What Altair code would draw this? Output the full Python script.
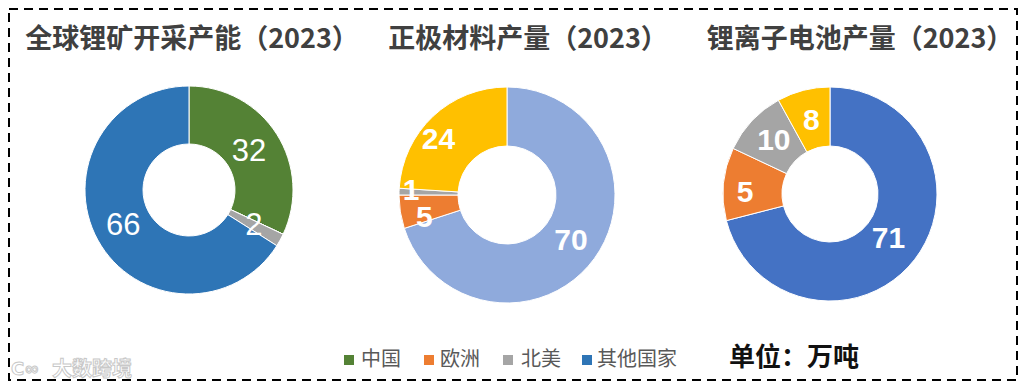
import altair as alt
import pandas as pd

# ---------------- data ----------------
titles = ["全球锂矿开采产能（2023）", "正极材料产量（2023）", "锂离子电池产量（2023）"]
legend_names = ["中国", "欧洲", "北美", "其他国家"]

# segments listed clockwise from 12 o'clock
c1_regions = ["中国", "欧洲", "北美", "其他国家"]
c1_share = [32, 0, 2, 66]
c1_labels = ["32", "", "2", "66"]

c2_regions = ["其他国家", "欧洲", "北美", "中国"]
c2_share = [70, 5, 1, 24]
c2_labels = ["70", "5", "1", "24"]

c3_regions = ["其他国家", "欧洲", "北美", "中国"]
c3_share = [71, 11, 10, 8]
c3_labels = ["71", "5", "10", "8"]

unit_text = "单位：万吨"
watermark_text = "大数跨境"

# ---------------- styles / layout ----------------
c1_colors = ["#548235", "#ED7D31", "#A5A5A5", "#2E75B6"]
c2_colors = ["#8FAADC", "#ED7D31", "#A5A5A5", "#FFC000"]
c3_colors = ["#4472C4", "#ED7D31", "#A5A5A5", "#FFC000"]
legend_colors = ["#548235", "#ED7D31", "#A5A5A5", "#2E75B6"]

W, H = 1010, 374
CJK = "Noto Sans CJK SC"
centers = [(181, 182), (499, 187), (822, 186)]
radii = [(46, 104), (49, 108), (48, 107)]
label_r = [[71, 0, 74, 75], [79, 86, 96, 88], [74, 85, 77, 75]]
label_dtheta = [[0, 0, 0, 0], [0, -1.9, 0.2, -2.2], [0, -1.4, 0, 0]]  # label angle nudges (% of circle)
label_style = [("normal", 31), ("bold", 30), ("bold", 30)]
title_x = [184, 520, 852]
title_y = 32
legend_sq_x = [341, 421, 500, 579]
legend_tx_x = [353, 432, 513, 589]
legend_y = 352

regions_all = [c1_regions, c2_regions, c3_regions]
shares_all = [c1_share, c2_share, c3_share]
labels_all = [c1_labels, c2_labels, c3_labels]
colors_all = [c1_colors, c2_colors, c3_colors]

all_keys = [f"{i}-{k}" for i in range(3) for k in range(4)]
all_colors = [c for cols in colors_all for c in cols]
color_scale = alt.Scale(domain=all_keys, range=all_colors)
theta_scale = alt.Scale(domain=[0, 100])

layers = []

# border
border = alt.Chart(pd.DataFrame({"a": [0]})).mark_rect(
    filled=False, stroke="black", strokeWidth=2, strokeDash=[9, 6]
).encode(x=alt.value(1), x2=alt.value(W - 1), y=alt.value(1), y2=alt.value(H - 2))
layers.append(border)

for i in range(3):
    df = pd.DataFrame({
        "region": regions_all[i],
        "share": shares_all[i],
        "label": labels_all[i],
        "order": list(range(4)),
        "key": [f"{i}-{k}" for k in range(4)],
        "lr": label_r[i],
        "dth": label_dtheta[i],
    })
    cx, cy = centers[i]
    rin, rout = radii[i]
    arc = alt.Chart(df).mark_arc(
        innerRadius=rin, outerRadius=rout, stroke="white", strokeWidth=1
    ).encode(
        theta=alt.Theta("share:Q", stack=True, scale=theta_scale),
        order=alt.Order("order:Q"),
        color=alt.Color("key:N", scale=color_scale, legend=None),
        x=alt.value(cx),
        y=alt.value(cy),
    )
    weight, size = label_style[i]
    txt = alt.Chart(df).transform_window(
        cum="sum(share)", sort=[alt.SortField("order")], frame=[None, 0]
    ).transform_calculate(
        mid="datum.cum - datum.share / 2 + datum.dth"
    ).transform_filter("datum.label != ''").mark_text(
        font="Liberation Sans", fontSize=size, fontWeight=weight, color="white",
        align="center", baseline="middle"
    ).encode(
        theta=alt.Theta("mid:Q", stack=None, scale=theta_scale),
        radius=alt.Radius("lr:Q", scale=None),
        text="label:N",
        x=alt.value(cx),
        y=alt.value(cy),
    )
    layers += [arc, txt]

# titles
tdf = pd.DataFrame({"title": titles, "tx": title_x})
title_layer = alt.Chart(tdf).mark_text(
    font=CJK, fontSize=27, fontWeight="bold", color="#404040",
    align="center", baseline="middle"
).encode(text="title:N", x=alt.X("tx:Q", scale=None), y=alt.value(title_y))
layers.append(title_layer)

# legend
ldf = pd.DataFrame({"name": legend_names, "sx": legend_sq_x, "tx": legend_tx_x})
leg_sq = alt.Chart(ldf).mark_square(size=100, opacity=1, filled=True).encode(
    x=alt.X("sx:Q", scale=None), y=alt.value(legend_y),
    color=alt.Color("name:N", scale=alt.Scale(domain=legend_names, range=legend_colors), legend=None),
)
leg_tx = alt.Chart(ldf).mark_text(
    font=CJK, fontSize=20, color="#595959", align="left", baseline="middle"
).encode(text="name:N", x=alt.X("tx:Q", scale=None), y=alt.value(legend_y))
layers += [leg_sq, leg_tx]

unit = alt.Chart(pd.DataFrame({"t": [unit_text]})).mark_text(
    font=CJK, fontSize=26, fontWeight="bold", color="#111111", align="left", baseline="middle"
).encode(text="t:N", x=alt.value(721), y=alt.value(350))
layers.append(unit)

wm = alt.Chart(pd.DataFrame({"t": [watermark_text]})).mark_text(
    font=CJK, fontSize=20, fontWeight="bold", color="white", stroke="#c8c8c8", strokeWidth=1,
    align="left", baseline="middle"
).encode(text="t:N", x=alt.value(44), y=alt.value(362))
wm_logo = alt.Chart(pd.DataFrame({"t": ["C∞"]})).mark_text(
    font="DejaVu Sans", fontSize=18, fontWeight="bold", color="white", stroke="#c8c8c8", strokeWidth=1,
    align="left", baseline="middle"
).encode(text="t:N", x=alt.value(3), y=alt.value(362))
layers += [wm, wm_logo]

chart = alt.layer(*layers).resolve_scale(color="independent").properties(
    width=W, height=H,
    autosize=alt.AutoSizeParams(type="fit", contains="padding"),
    padding=0,
    background="white",
).configure_view(stroke=None)

chart.save("out.html", embed_options={"renderer": "svg", "actions": False})
